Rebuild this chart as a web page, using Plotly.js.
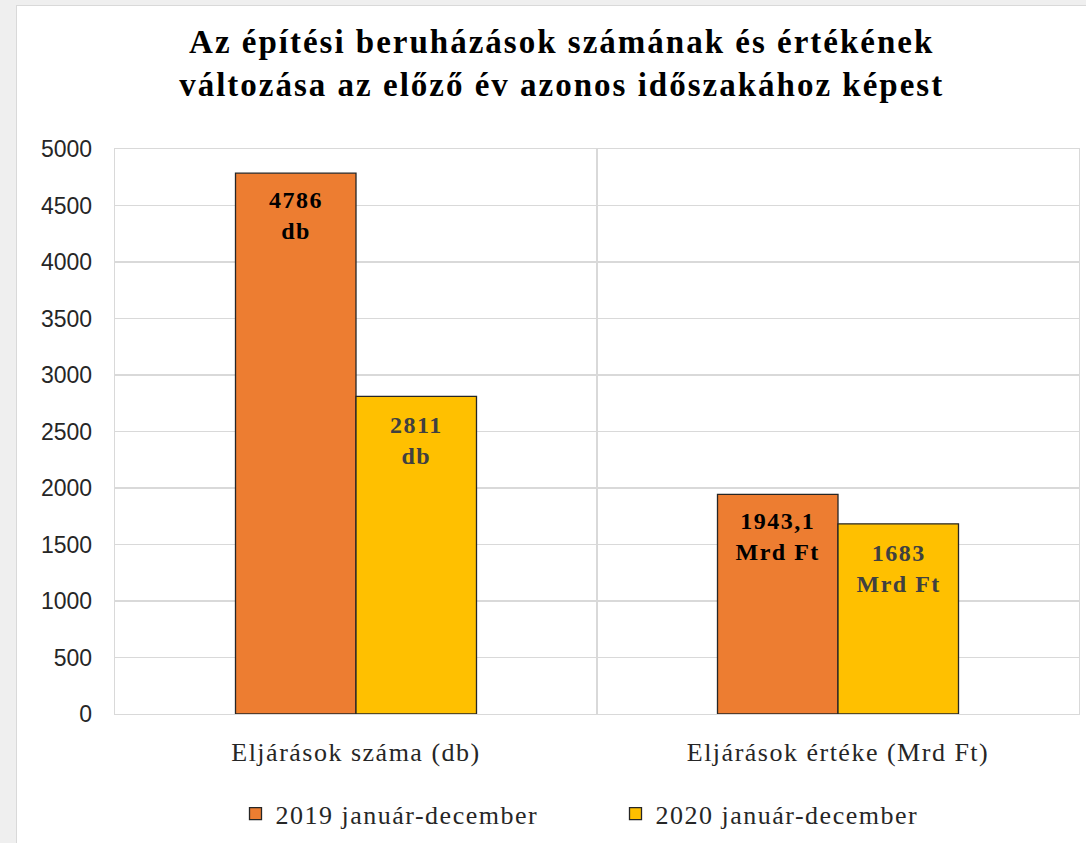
<!DOCTYPE html>
<html><head><meta charset="utf-8">
<script src="https://cdn.plot.ly/plotly-3.0.1.min.js"></script>
<style>
html,body{margin:0;padding:0;background:#efefef;width:1086px;height:843px;overflow:hidden;}
#chart{position:absolute;left:16px;top:5px;width:1070px;height:838px;background:#fff;border-left:1px solid #d9d9d9;border-top:1px solid #d9d9d9;box-sizing:border-box;}
#chart .gtitle{letter-spacing:2px;}
#chart .xtick text{letter-spacing:1.5px;}
#chart .legendtext{letter-spacing:1.5px;}
#chart .annotation-text{letter-spacing:1.5px;}
</style></head>
<body><div id="chart"></div>
<script>
const categories = ['Eljárások száma (db)', 'Eljárások értéke (Mrd Ft)'];
const seriesNames = ['2019 január-december', '2020 január-december'];
const values2019 = [4786, 1943.1];
const values2020 = [2811, 1683];
const labels2019 = ['4786<br>db', '1943,1<br>Mrd Ft'];
const labels2020 = ['2811<br>db', '1683<br>Mrd Ft'];
const yTicks = [0, 500, 1000, 1500, 2000, 2500, 3000, 3500, 4000, 4500, 5000];

const serif = 'Liberation Serif, DejaVu Serif, serif';
const W = 1068, H = 837;
const margin = {l: 98, r: 6, t: 143, b: 124};
const bargap = 0.5;
const plotW = W - margin.l - margin.r;
const barW = plotW / categories.length * (1 - bargap) / 2;

const traces = [
  {type: 'bar', name: seriesNames[0], x: categories, y: values2019,
   marker: {color: '#ED7D31', line: {color: '#262626', width: 1.3}}, hoverinfo: 'none'},
  {type: 'bar', name: seriesNames[1], x: categories, y: values2020,
   marker: {color: '#FFC000', line: {color: '#262626', width: 1.3}}, hoverinfo: 'none'}
];

const annotations = [];
categories.forEach((c, i) => {
  annotations.push({x: c, y: values2019[i], xref: 'x', yref: 'y', text: '<b>' + labels2019[i] + '</b>',
    showarrow: false, yanchor: 'top', xshift: -barW / 2, yshift: -12,
    font: {family: serif, size: 24, color: '#000'}});
  annotations.push({x: c, y: values2020[i], xref: 'x', yref: 'y', text: '<b>' + labels2020[i] + '</b>',
    showarrow: false, yanchor: 'top', xshift: barW / 2, yshift: -14,
    font: {family: serif, size: 24, color: '#404040'}});
});

const layout = {
  width: W, height: H,
  margin: margin,
  paper_bgcolor: '#ffffff', plot_bgcolor: '#ffffff',
  barmode: 'group', bargap: bargap, bargroupgap: 0,
  title: {text: '<b>Az építési beruházások számának és értékének<br>változása az előző év azonos időszakához képest</b>',
          font: {family: serif, size: 33, color: '#000'},
          x: 0.51, xanchor: 'center', xref: 'container', y: 0.944, yanchor: 'top', yref: 'container'},
  xaxis: {type: 'category', tickson: 'boundaries', showgrid: true, gridcolor: '#d9d9d9', gridwidth: 1.3,
          showline: true, linecolor: '#d9d9d9', linewidth: 1.3, mirror: true,
          ticks: '', ticklabelstandoff: 14,
          tickfont: {family: serif, size: 26, color: '#262626'}, zeroline: false},
  yaxis: {range: [0, 5000], tickvals: yTicks, showgrid: true, gridcolor: '#d9d9d9', gridwidth: 1.3,
          showline: true, linecolor: '#d9d9d9', linewidth: 1.3, mirror: true, zeroline: false,
          ticks: 'outside', ticklen: 17, tickcolor: 'rgba(0,0,0,0)',
          tickfont: {family: 'Liberation Sans, Arial, sans-serif', size: 23, color: '#262626'}},
  legend: {orientation: 'h', x: 0.125, xanchor: 'left', y: -0.135, yanchor: 'top',
           font: {family: serif, size: 26, color: '#262626'}, itemwidth: 30, traceorder: 'normal',
           entrywidth: 335, entrywidthmode: 'pixels'},
  annotations: annotations,
  showlegend: true
};

Plotly.newPlot('chart', traces, layout, {displayModeBar: false, staticPlot: true});
</script></body></html>
